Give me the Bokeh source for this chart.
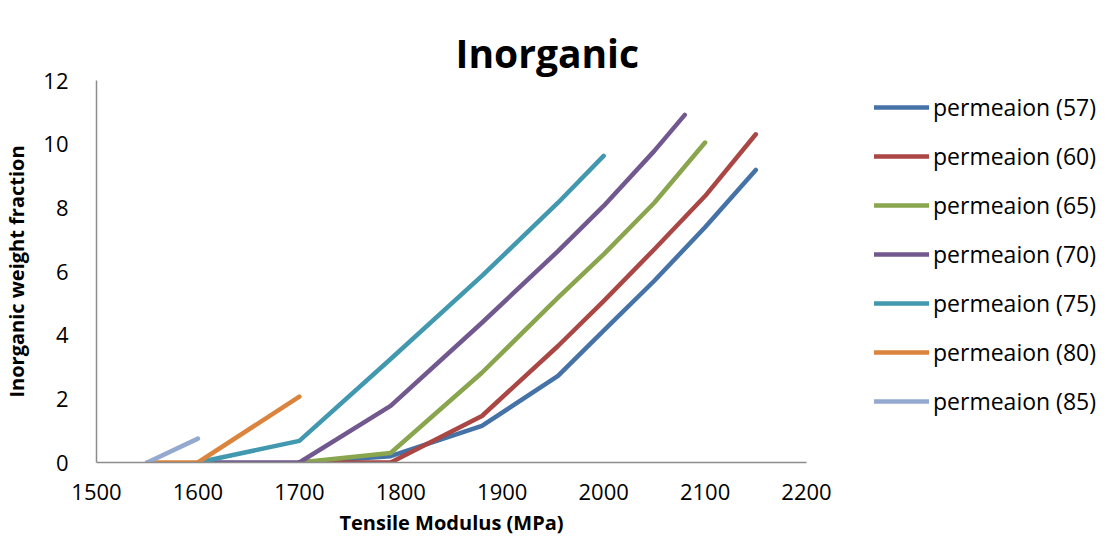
from bokeh.plotting import figure
from bokeh.layouts import row
from bokeh.models import Legend, LegendItem, SingleIntervalTicker, Range1d, Title
from bokeh.embed import file_html
from bokeh.resources import INLINE

# --- data ---
labels = ["permeaion (57)", "permeaion (60)", "permeaion (65)", "permeaion (70)",
          "permeaion (75)", "permeaion (80)", "permeaion (85)"]

x_57 = [1700, 1790, 1880, 1955, 2000, 2050, 2100, 2150]
y_57 = [0, 0.2, 1.15, 2.72, 4.14, 5.71, 7.39, 9.19]
x_60 = [1700, 1790, 1880, 1955, 2000, 2050, 2100, 2150]
y_60 = [0, 0, 1.46, 3.66, 5.07, 6.70, 8.37, 10.31]
x_65 = [1700, 1790, 1880, 1955, 2000, 2050, 2100]
y_65 = [0, 0.3, 2.82, 5.18, 6.54, 8.16, 10.05]
x_70 = [1600, 1700, 1790, 1880, 1955, 2000, 2050, 2080]
y_70 = [0, 0, 1.78, 4.39, 6.64, 8.06, 9.79, 10.92]
x_75 = [1600, 1700, 1790, 1880, 1955, 2000]
y_75 = [0, 0.68, 3.25, 5.86, 8.16, 9.63]
x_80 = [1550, 1600, 1700]
y_80 = [0, 0, 2.07]
x_85 = [1550, 1600]
y_85 = [0, 0.75]

colors = ["#4572A7", "#AA4643", "#89A54E", "#71588F", "#4198AF", "#DB843D", "#93A9CF"]
series = [(x_57, y_57), (x_60, y_60), (x_65, y_65), (x_70, y_70),
          (x_75, y_75), (x_80, y_80), (x_85, y_85)]

FONT = "Open Sans"
MAIN_W = 840

p = figure(width=MAIN_W, height=540, output_backend="svg", toolbar_location=None,
           x_range=Range1d(1500, 2200), y_range=Range1d(0, 12),
           min_border_left=93, min_border_right=MAIN_W - 806, min_border_top=80,
           min_border_bottom=78)
p.title = None
p.frame_align = False

p.outline_line_color = None
p.grid.grid_line_color = None
p.background_fill_color = "white"

# invisible spacer next to the frame, then the title above it
p.add_layout(Title(text=".", text_font_size="10px", standoff=7, text_alpha=0), "above")
p.add_layout(Title(text="Inorganic", text_font=FONT, text_font_size="39px",
                   text_font_style="bold", align="left", offset=359, standoff=0,
                   vertical_align="top", text_color="black"), "above")

for ax in (p.xaxis[0], p.yaxis[0]):
    ax.axis_line_color = "#8c8c8c"
    ax.axis_line_width = 1.5
    ax.major_tick_line_color = None
    ax.minor_tick_line_color = None
    ax.major_tick_out = 0
    ax.major_tick_in = 0
    ax.major_label_text_font = FONT
    ax.major_label_text_font_size = "22px"
    ax.major_label_text_color = "black"
    ax.axis_label_text_font = FONT
    ax.axis_label_text_font_size = "20px"
    ax.axis_label_text_font_style = "bold"
    ax.axis_label_text_color = "black"

p.xaxis.ticker = SingleIntervalTicker(interval=100)
p.yaxis.ticker = SingleIntervalTicker(interval=2)
p.xaxis.axis_label = "Tensile Modulus (MPa)"
p.yaxis.axis_label = "Inorganic weight fraction"
p.xaxis.major_label_standoff = 17
p.yaxis.major_label_standoff = 24
p.xaxis.axis_label_standoff = 6
p.yaxis.axis_label_standoff = 10

for (xs, ys), c in zip(series, colors):
    p.line(xs, ys, line_color=c, line_width=4.5, line_cap="round", line_join="round")

# legend panel (separate figure to the right)
q = figure(width=1107 - MAIN_W, height=540, output_backend="svg", toolbar_location=None,
           x_range=Range1d(0, 1), y_range=Range1d(0, 1),
           x_axis_location=None, y_axis_location=None,
           min_border=0, min_border_left=0, min_border_right=0,
           min_border_top=0, min_border_bottom=0)
q.title = None
q.frame_align = False
q.outline_line_color = None
q.grid.grid_line_color = None

items = []
for (xs, ys), c, lab in zip(series, colors, labels):
    # legend proxy: the series' first point, which lies outside this panel's range
    r = q.line(xs[:1], ys[:1], line_color=c, line_width=4.5, line_cap="round")
    items.append(LegendItem(label=lab, renderers=[r]))

legend = Legend(items=items, location=(34, 123))
legend.border_line_color = None
legend.background_fill_alpha = 0
legend.label_text_font = FONT
legend.label_text_font_size = "23px"
legend.label_text_color = "black"
legend.glyph_width = 55
legend.glyph_height = 32
legend.label_height = 32
legend.label_standoff = 4
legend.spacing = 17
legend.padding = 10
legend.margin = 0
q.add_layout(legend)

open("out.html", "w").write(file_html(row(p, q), INLINE))
